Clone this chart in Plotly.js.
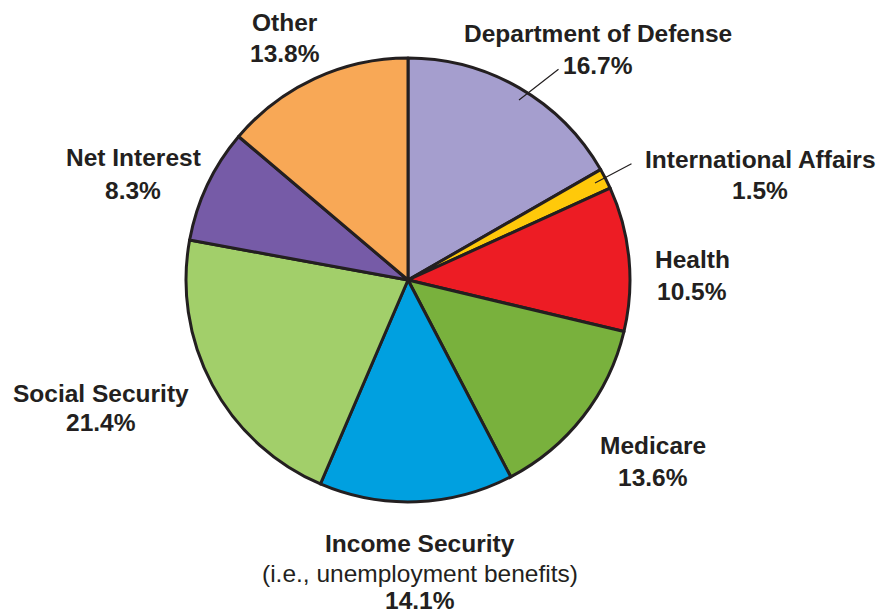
<!DOCTYPE html>
<html>
<head>
<meta charset="utf-8">
<script src="https://cdn.plot.ly/plotly-3.0.1.min.js"></script>
<style>html,body{margin:0;padding:0;background:#fff;}#chart{width:880px;height:615px;}</style>
</head>
<body>
<div id="chart"></div>
<script>
var categories = ["Department of Defense", "International Affairs", "Health", "Medicare", "Income Security", "Social Security", "Net Interest", "Other"];
var values = [16.7, 1.5, 10.5, 13.6, 14.1, 21.4, 8.3, 13.8];
var colors = ["#A59ECE", "#FFC90A", "#ED1C24", "#79B13D", "#00A0E0", "#A2CF6A", "#765BA7", "#F8A856"];
var subLabels = {"Income Security": "(i.e., unemployment benefits)"};

var W = 880, H = 615;
var cx = 408, cy = 280, R = 222;

// label layout: [centerX, nameY, pctY] in pixels
var labelPos = {
  "Department of Defense": [598, 33, 65],
  "International Affairs": [760, 159, 190],
  "Health": [692, 259, 291],
  "Medicare": [653, 445, 477],
  "Income Security": [420, 543, 600],
  "Social Security": [101, 393, 423],
  "Net Interest": [133, 158, 190],
  "Other": [285, 23, 54]
};
// leader lines: [inner x, inner y, outer x, outer y]
var leaders = {
  "Department of Defense": [519, 100, 560, 68],
  "International Affairs": [595, 183, 633, 163]
};

var font = {family: "Liberation Sans, Arial, Helvetica, sans-serif", size: 24.5, color: "#231F20"};
var px = function (x) { return x / W; };
var py = function (y) { return 1 - y / H; };

var annotations = [];
categories.forEach(function (c, i) {
  var p = labelPos[c];
  annotations.push({xref: "paper", yref: "paper", x: px(p[0]), y: py(p[1]), xanchor: "center", yanchor: "middle",
    text: "<b>" + c + "</b>", showarrow: false, font: font});
  if (subLabels[c]) {
    annotations.push({xref: "paper", yref: "paper", x: px(p[0]), y: py(573), xanchor: "center", yanchor: "middle",
      text: subLabels[c], showarrow: false, font: font});
  }
  annotations.push({xref: "paper", yref: "paper", x: px(p[0]), y: py(p[2]), xanchor: "center", yanchor: "middle",
    text: "<b>" + values[i].toFixed(1) + "%</b>", showarrow: false, font: font});
  if (leaders[c]) {
    var l = leaders[c];
    annotations.push({xref: "paper", yref: "paper", x: px(l[0]), y: py(l[1]), ax: l[2] - l[0], ay: l[3] - l[1],
      showarrow: true, arrowhead: 0, arrowwidth: 1.2, arrowcolor: "#231F20", text: ""});
  }
});

var data = [{
  type: "pie",
  labels: categories,
  values: values,
  sort: false,
  direction: "clockwise",
  rotation: 0,
  textinfo: "none",
  hoverinfo: "none",
  marker: {colors: colors, line: {color: "#231F20", width: 3}},
  domain: {x: [px(cx - R), px(cx + R)], y: [py(cy + R), py(cy - R)]},
  showlegend: false
}];

var layout = {
  width: W, height: H,
  margin: {l: 0, r: 0, t: 0, b: 0},
  paper_bgcolor: "#fff",
  showlegend: false,
  annotations: annotations
};

Plotly.newPlot("chart", data, layout, {displayModeBar: false, staticPlot: true});
</script>
</body>
</html>
